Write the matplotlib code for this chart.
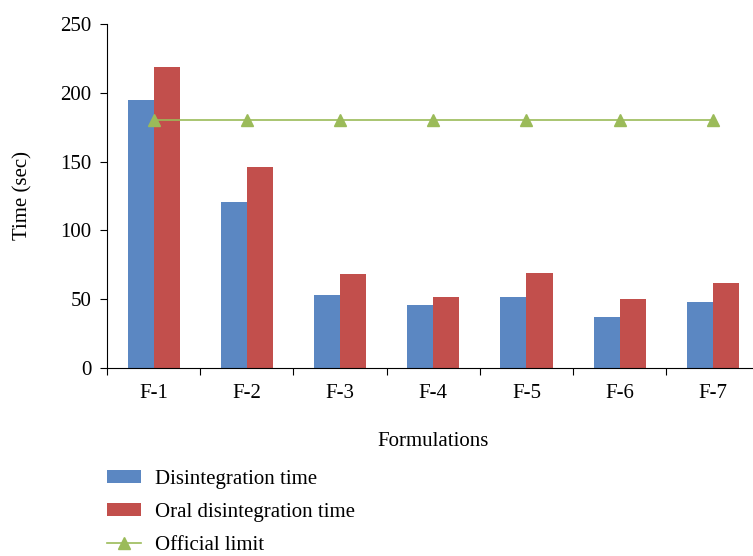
import numpy as np
import matplotlib.pyplot as plt

formulations = ["F-1", "F-2", "F-3", "F-4", "F-5", "F-6", "F-7"]
disintegration = [194.5, 120.5, 53, 46, 51.5, 37, 48]
oral_disintegration = [218.5, 146, 68.5, 51.5, 69.5, 50, 62]
official_limit = [180, 180, 180, 180, 180, 180, 180]

plt.rcParams["font.family"] = "Liberation Serif"
plt.rcParams["font.size"] = 15

fig = plt.figure(figsize=(7.53, 5.56), dpi=100)
ax = fig.add_axes([107 / 753, 1 - 368.3 / 556, 652.5 / 753, 344.6 / 556])

x = np.arange(len(formulations))
w = 0.28
b1 = ax.bar(x - w / 2, disintegration, w, color="#5B87C2")
b2 = ax.bar(x + w / 2, oral_disintegration, w, color="#C24F4C")
ln, = ax.plot(x, official_limit, color="#9BBB59", marker="^", markersize=9, linewidth=1.2)

ax.set_xlim(-0.5, 6.5)
ax.set_ylim(0, 250)
ax.set_yticks([0, 50, 100, 150, 200, 250])
ax.spines["top"].set_visible(False)
ax.spines["right"].set_visible(False)

# tick marks between the groups, labels at the group centres
ax.set_xticks(np.arange(-0.5, 7, 1))
ax.set_xticklabels([])
ax.tick_params(axis="x", which="major", direction="out", length=5)
ax.set_xticks(x, minor=True)
ax.set_xticklabels(formulations, minor=True)
ax.tick_params(axis="x", which="minor", length=0, pad=11)
ax.tick_params(axis="y", direction="out", length=5, pad=6)

ax.set_ylabel("Time (sec)", labelpad=20)
ax.set_xlabel("Formulations", labelpad=21)

fig.legend([b1, b2, ln], ["Disintegration time", "Oral disintegration time", "Official limit"],
           loc="upper left", bbox_to_anchor=(107 / 753, 1 - 470 / 556), frameon=False,
           handlelength=1.65, handleheight=0.6, handletextpad=0.65, labelspacing=0.66,
           borderaxespad=0, borderpad=0)

fig.savefig("out.png", dpi=100)
